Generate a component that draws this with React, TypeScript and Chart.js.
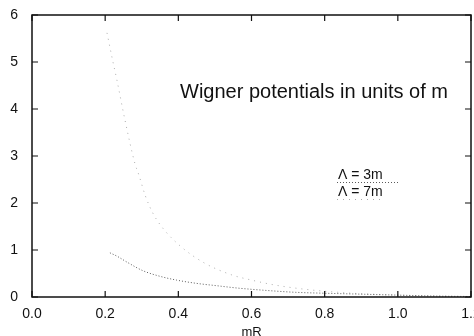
import React, { useEffect, useRef } from "react";
import { Chart, registerables } from "chart.js";

Chart.register(...registerables);

const xTicks = [0, 0.2, 0.4, 0.6, 0.8, 1.0, 1.2];
const yTicks = [0, 1, 2, 3, 4, 5, 6];

const R7 = [0.205, 0.22, 0.232, 0.254, 0.281, 0.292, 0.31, 0.33, 0.357, 0.409, 0.472, 0.546, 0.6, 0.66, 0.74, 0.82, 0.9, 1.0, 1.1, 1.2];
const V7 = [5.62, 5.05, 4.62, 3.77, 2.85, 2.6, 2.15, 1.79, 1.47, 1.06, 0.72, 0.47, 0.36, 0.26, 0.17, 0.11, 0.07, 0.04, 0.02, 0.01];

const R3 = [0.213, 0.232, 0.26, 0.303, 0.35, 0.395, 0.45, 0.505, 0.562, 0.64, 0.72, 0.8, 0.9, 1.0, 1.1, 1.2];
const V3 = [0.94, 0.87, 0.74, 0.56, 0.44, 0.36, 0.29, 0.24, 0.19, 0.14, 0.1, 0.08, 0.06, 0.04, 0.02, 0.01];

const TITLE = "Wigner potentials in units of m";
const LABEL3 = "Λ = 3m";
const LABEL7 = "Λ = 7m";
const X_TITLE = "mR";

const COLOR3 = "#5a5a5a";
const COLOR7 = "#ababab";
const DASH3 = [1, 2];
const DASH7 = [1, 5];

const framePlugin = {
  id: "frame",
  afterDraw(chart: any) {
    const { ctx, chartArea, scales } = chart;
    const { left, right, top, bottom } = chartArea;
    ctx.save();
    ctx.strokeStyle = "#111";
    ctx.lineWidth = 1.5;
    ctx.strokeRect(left, top, right - left, bottom - top);
    ctx.lineWidth = 1.2;
    const tl = 6;
    ctx.beginPath();
    xTicks.forEach((v) => {
      const px = scales.x.getPixelForValue(v);
      ctx.moveTo(px, bottom);
      ctx.lineTo(px, bottom - tl);
      ctx.moveTo(px, top);
      ctx.lineTo(px, top + tl);
    });
    yTicks.forEach((v) => {
      const py = scales.y.getPixelForValue(v);
      ctx.moveTo(left, py);
      ctx.lineTo(left + tl, py);
      ctx.moveTo(right, py);
      ctx.lineTo(right - tl, py);
    });
    ctx.stroke();

    // title
    ctx.fillStyle = "#111";
    ctx.font = "20px 'Liberation Sans', Arial, sans-serif";
    ctx.textBaseline = "middle";
    ctx.textAlign = "left";
    ctx.fillText(TITLE, 180, 92);

    // legend
    ctx.font = "14px 'Liberation Sans', Arial, sans-serif";
    ctx.fillText(LABEL3, 338, 175);
    ctx.fillText(LABEL7, 338, 192);
    ctx.lineWidth = 1;
    ctx.strokeStyle = COLOR3;
    ctx.setLineDash(DASH3);
    ctx.beginPath();
    ctx.moveTo(337, 182.5);
    ctx.lineTo(400, 182.5);
    ctx.stroke();
    ctx.strokeStyle = COLOR7;
    ctx.setLineDash(DASH7);
    ctx.beginPath();
    ctx.moveTo(337, 199.5);
    ctx.lineTo(382, 199.5);
    ctx.stroke();
    ctx.restore();
  },
};

export default function App() {
  const ref = useRef<HTMLCanvasElement | null>(null);
  useEffect(() => {
    const prevMargin = document.body.style.margin;
    document.body.style.margin = "0";
    const canvas = ref.current!;
    const tickFont = { family: "'Liberation Sans', Arial, sans-serif", size: 14 };
    const chart = new Chart(canvas, {
      type: "scatter",
      data: {
        datasets: [
          {
            label: LABEL3,
            data: R3.map((x, i) => ({ x, y: V3[i] })),
            showLine: true,
            borderColor: COLOR3,
            borderWidth: 1,
            borderDash: DASH3,
            pointRadius: 0,
            cubicInterpolationMode: "monotone",
            fill: false,
          },
          {
            label: LABEL7,
            data: R7.map((x, i) => ({ x, y: V7[i] })),
            showLine: true,
            borderColor: COLOR7,
            borderWidth: 1,
            borderDash: DASH7,
            pointRadius: 0,
            cubicInterpolationMode: "monotone",
            fill: false,
          },
        ],
      },
      options: {
        animation: false,
        responsive: false,
        devicePixelRatio: 1,
        layout: { padding: { top: 15, right: 3, left: 0, bottom: 0 } },
        plugins: { legend: { display: false }, tooltip: { enabled: false } },
        scales: {
          x: {
            type: "linear",
            min: 0,
            max: 1.2,
            afterBuildTicks: (scale: any) => {
              scale.ticks = xTicks.map((v) => ({ value: v }));
            },
            ticks: {
              callback: (v: any) => Number(v).toFixed(1),
              font: tickFont,
              color: "#111",
              padding: 9,
              maxRotation: 0,
              autoSkip: false,
            },
            grid: { drawOnChartArea: false, drawTicks: false },
            border: { display: false },
            title: {
              display: true,
              text: X_TITLE,
              color: "#111",
              font: { family: "'Liberation Sans', Arial, sans-serif", size: 13, lineHeight: 0.6 },
              padding: { top: 0, bottom: 0 },
            },
            afterFit: (scale: any) => {
              scale.height = 39;
              scale.paddingLeft = 0;
              scale.paddingRight = 0;
            },
          },
          y: {
            type: "linear",
            min: 0,
            max: 6,
            afterBuildTicks: (scale: any) => {
              scale.ticks = yTicks.map((v) => ({ value: v }));
            },
            ticks: {
              font: tickFont,
              color: "#111",
              padding: 14,
              autoSkip: false,
            },
            grid: { drawOnChartArea: false, drawTicks: false },
            border: { display: false },
            afterFit: (scale: any) => {
              scale.width = 32;
              scale.paddingTop = 0;
              scale.paddingBottom = 0;
            },
          },
        },
      },
      plugins: [framePlugin],
    } as any);
    return () => {
      chart.destroy();
      document.body.style.margin = prevMargin;
    };
  }, []);
  return (
    <div style={{ position: "absolute", left: 0, top: 0, width: 474, height: 336, background: "#fff" }}>
      <canvas ref={ref} width={474} height={336} style={{ width: 474, height: 336, display: "block" }} />
    </div>
  );
}
